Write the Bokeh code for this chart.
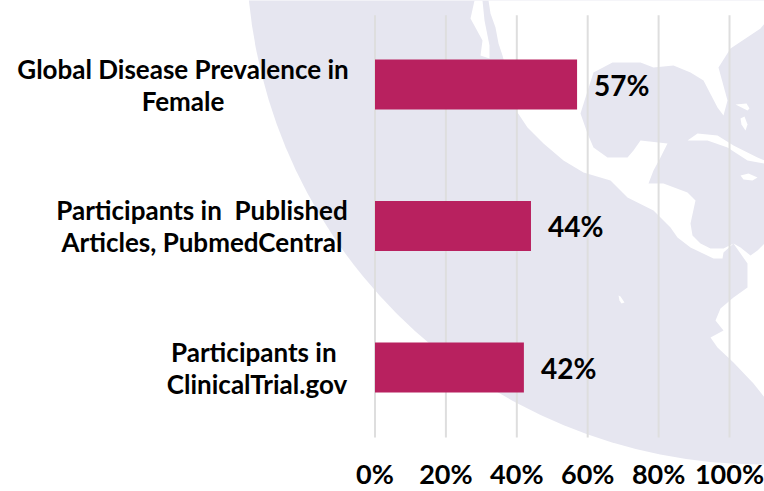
from bokeh.plotting import figure
from bokeh.models import Range1d, FixedTicker, PrintfTickFormatter
from bokeh.core.properties import value
from bokeh.embed import file_html
from bokeh.resources import INLINE

# ---- data ----
categories = ["Participants in \nClinicalTrial.gov",
              "Participants in \u00a0Published\nArticles, PubmedCentral",
              "Global Disease Prevalence in\nFemale"]
rows = [0, 1, 2]
shares = [42, 44, 57]
ticks = [0, 20, 40, 60, 80, 100]
label_offsets = [-118, -173, -192]   # centre of each wrapped label relative to the 0% line, px

# ---- decorative world map, page pixel coordinates (white land on a lavender globe) ----
mainland_x = [488,490,495,498,502,510,517,527,543,563,583,610,627,653,670,677,690,713,722,723,733,723,710,700,692,690,695,687,663,648,653,660,667,640,633,627,607,593,587,580,585,593,612,640,653,673,690,703,717,723,727,718,730,760,764,764]
mainland_y = [0,13,27,43,55,85,112,127,143,160,172,180,197,210,227,237,247,258,258,252,243,248,248,243,235,223,200,192,183,183,170,157,143,140,150,157,157,147,133,113,97,72,62,62,67,65,72,80,107,115,100,67,48,28,23,0]
south_x = [733,740,750,757,764,764,753,733,717,710,723,715,720,733,747,747]
south_y = [243,247,255,250,243,397,383,362,347,337,330,320,308,297,287,263]
baja_x = [474,482,484,489,489,480,482,470]
baja_y = [0,0,20,45,58,55,40,18]
cuba_x = [687,697,717,733,757,764,764,747,727,707]
cuba_y = [140,133,135,145,157,160,163,160,147,140]
jamaica_x = [740,748,757,752,743]
jamaica_y = [175,173,177,180,179]
bahama1_x = [740,744,747,745,741]
bahama1_y = [118,116,124,130,124]
bahama2_x = [735,746,749,747,739]
bahama2_y = [104,103,108,110,106]
islet_x = [618,620,624,621,619]
islet_y = [295,296,302,303,300]

W, H = 764, 491
p = figure(width=W, height=H, output_backend="svg", toolbar_location=None,
           x_range=Range1d(-105.64, 109.87), y_range=Range1d(-0.876, 2.594),
           min_border=0, outline_line_color=None, background_fill_color="white")
p.extra_x_ranges["px"] = Range1d(0, 764)
p.extra_y_ranges["px"] = Range1d(491, 0)

p.xgrid.visible = False
p.ygrid.visible = False
p.yaxis.visible = False

p.circle(x=[760], y=[-50], radius=514, x_range_name="px", y_range_name="px",
         fill_color="#E6E6F0", line_color=None)
p.patches(xs=[mainland_x, south_x, baja_x, cuba_x, jamaica_x, bahama1_x, bahama2_x, islet_x],
          ys=[mainland_y, south_y, baja_y, cuba_y, jamaica_y, bahama1_y, bahama2_y, islet_y],
          x_range_name="px", y_range_name="px", fill_color="white", line_color=None)

p.segment(x0=ticks, x1=ticks, y0=[-0.495] * len(ticks), y1=[2.49] * len(ticks),
          line_color="#DEDEDE", line_width=2)

p.hbar(y=rows, left=0, right=shares, height=0.354, fill_color="#B8215F", line_color=None)

p.text(x=shares, y=rows, text=[f"{s}%" for s in shares], x_offset=17,
       text_align="left", text_baseline="middle", text_color="black",
       text_font=value("Lato"), text_font_style="bold", text_font_size="28px")

p.text(x=[0, 0, 0], y=rows, text=categories, x_offset=label_offsets,
       text_align="center", text_baseline="middle", text_color="black",
       text_font=value("Lato"), text_font_style="bold", text_font_size="26px",
       text_line_height=1.0)

ax = p.xaxis[0]
ax.ticker = FixedTicker(ticks=ticks)
ax.formatter = PrintfTickFormatter(format="%d%%")
ax.fixed_location = -0.495
ax.axis_line_color = None
ax.major_tick_line_color = None
ax.minor_tick_line_color = None
ax.major_label_standoff = 13
ax.major_label_text_font = "Lato"
ax.major_label_text_font_style = "bold"
ax.major_label_text_font_size = "27px"
ax.major_label_text_color = "black"

open("out.html", "w").write(file_html(p, INLINE))
